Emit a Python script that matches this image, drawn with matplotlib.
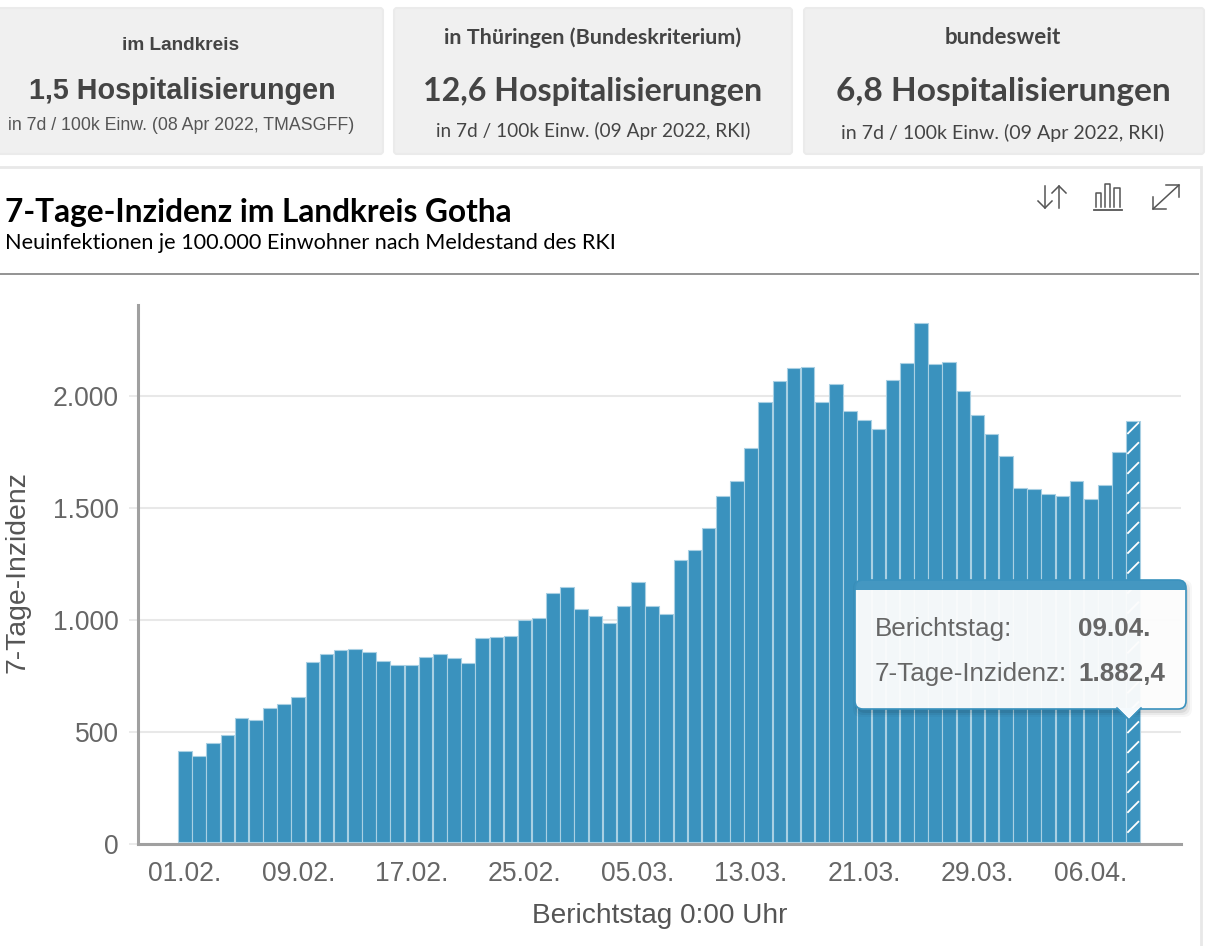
import matplotlib
matplotlib.use("Agg")
import numpy as np
import matplotlib.pyplot as plt
from matplotlib.patches import FancyBboxPatch, Polygon, Rectangle

WIDTH = 1210
HEIGHT = 946
BLUE = "#3a92be"

# 01.02. to 09.04.2022
days = [f"{d:02d}.02." for d in range(1, 29)] + [f"{d:02d}.03." for d in range(1, 32)] + [f"{d:02d}.04." for d in range(1, 10)]
incidence = [
    410, 385, 446, 480, 554, 548, 600, 617, 651, 806, 843, 858, 864, 850, 812, 791, 794,
    827, 839, 824, 800, 913, 917, 921, 993, 1002, 1114, 1139, 1042, 1011, 978, 1056, 1161,
    1054, 1018, 1261, 1306, 1403, 1548, 1615, 1760, 1965, 2059, 2117, 2121, 1965, 2047,
    1926, 1885, 1846, 2063, 2138, 2318, 2135, 2146, 2014, 1907, 1821, 1724, 1580, 1579,
    1554, 1548, 1612, 1532, 1594, 1742, 1882.4,
]
y_ticks = [0, 500, 1000, 1500, 2000]
y_tick_labels = ["0", "500", "1.000", "1.500", "2.000"]

card_heads = ["im Landkreis", "in Thüringen (Bundeskriterium)", "bundesweit"]
card_values = ["1,5 Hospitalisierungen", "12,6 Hospitalisierungen", "6,8 Hospitalisierungen"]
card_notes = [
    "in 7d / 100k Einw. (08 Apr 2022, TMASGFF)",
    "in 7d / 100k Einw. (09 Apr 2022, RKI)",
    "in 7d / 100k Einw. (09 Apr 2022, RKI)",
]


def px(size):
    return size * 0.72


def pixel_axes(fig, zorder):
    ax = fig.add_axes([0, 0, 1, 1], zorder=zorder)
    ax.set_xlim(0, WIDTH)
    ax.set_ylim(HEIGHT, 0)
    ax.axis("off")
    ax.patch.set_alpha(0)
    return ax


def draw_cards(ax):
    boxes = [(-10, 383), (394, 792), (804, 1204)]
    for left, right in boxes:
        ax.add_patch(FancyBboxPatch((left, 8), right - left, 146, boxstyle="round,pad=0,rounding_size=3",
                                    fc="#f0f0f0", ec="#ebebeb", lw=1.5))

    ax.text(181, 46, card_heads[0], family="Liberation Sans", weight="bold", size=px(19), color="#444444", ha="center", va="center")
    ax.text(182, 91, card_values[0], family="Liberation Sans", weight="bold", size=px(28.8), color="#444444", ha="center", va="center")
    ax.text(181.5, 125, card_notes[0], family="Liberation Sans", size=px(17.8), color="#555555", ha="center", va="center")

    sizes = [None, (21.5, 32.1, 19), (22.3, 33.5, 19.6)]
    for i, cx, y0, y1, y2 in [(1, 593, 38, 92, 131), (2, 1003, 38, 92, 133)]:
        ax.text(cx, y0, card_heads[i], family="Lato", weight="bold", size=px(sizes[i][0]), color="#444444", ha="center", va="center")
        ax.text(cx, y1, card_values[i], family="Lato", weight="bold", size=px(sizes[i][1]), color="#444444", ha="center", va="center")
        ax.text(cx, y2, card_notes[i], family="Lato", size=px(sizes[i][2]), color="#444444", ha="center", va="center")


def draw_panel(ax):
    ax.add_patch(Rectangle((-5, 167), 1206, 790, fc="white", ec="#e8e8e8", lw=2))
    ax.plot([0, 1199], [274.5, 274.5], color="#808080", lw=1.2, solid_capstyle="butt")
    ax.text(5, 212, "7-Tage-Inzidenz im Landkreis Gotha", family="Lato", weight="bold", size=px(31.6), color="black", va="center")
    ax.text(5, 243, "Neuinfektionen je 100.000 Einwohner nach Meldestand des RKI", family="Lato", size=px(21.6), color="black", va="center")


def draw_icons(ax):
    c = "#555555"
    lw = 1.1
    # sort
    ax.plot([1045, 1045], [186, 208], color=c, lw=lw)
    ax.plot([1038, 1045, 1052], [201, 208, 201], color=c, lw=lw)
    ax.plot([1059, 1059], [186, 208], color=c, lw=lw)
    ax.plot([1052, 1059, 1066], [193, 186, 193], color=c, lw=lw)
    # bars
    ax.plot([1094, 1122], [210, 210], color=c, lw=1.3)
    ax.plot([1096, 1096, 1101, 1101], [207, 193, 193, 207], color=c, lw=lw)
    ax.plot([1105, 1105, 1110, 1110], [207, 184, 184, 207], color=c, lw=lw)
    ax.plot([1114, 1114, 1120, 1120], [207, 188, 188, 207], color=c, lw=lw)
    # expand
    ax.plot([1153, 1179], [209, 185], color=c, lw=lw)
    ax.plot([1153, 1153, 1166], [197, 209, 209], color=c, lw=lw)
    ax.plot([1166, 1179, 1179], [185, 185, 197], color=c, lw=lw)


def draw_tooltip(ax):
    box = (855, 580)
    w, h = 331, 129
    style = "round,pad=0,rounding_size=8"
    # soft shadow, only outside the box
    for grow, alpha in [(4, 0.03), (2, 0.05), (0, 0.07)]:
        ax.add_patch(FancyBboxPatch((box[0] + 2 - grow, box[1] + 4 - grow), w + 2 * grow, h + 2 * grow,
                                    boxstyle=style, fc="black", ec="none", alpha=alpha))
    ax.add_patch(FancyBboxPatch(box, w, h, boxstyle=style, fc="white", ec="none", alpha=0.95))
    band = FancyBboxPatch(box, w, h, boxstyle=style, fc=BLUE, ec="none", alpha=0.95)
    ax.add_patch(band)
    band.set_clip_path(Rectangle((box[0], box[1]), w, 10, transform=ax.transData))
    ax.add_patch(FancyBboxPatch(box, w, h, boxstyle=style, fc="none", ec=BLUE, lw=1.2))

    ax.add_patch(Polygon([(1118, 708), (1129, 719), (1140, 708)], closed=True, fc="#f5fafd", ec="none"))
    ax.plot([1117, 1129, 1141], [708, 720, 708], color=BLUE, lw=1.2)

    ax.text(875, 628.5, "Berichtstag:", family="Liberation Sans", size=px(26), color="#666666", va="center")
    ax.text(875, 673.5, "7-Tage-Inzidenz:", family="Liberation Sans", size=px(26), color="#666666", va="center")
    ax.text(1078, 628.5, days[-1], family="Liberation Sans", weight="bold", size=px(26), color="#666666", va="center")
    ax.text(1078, 673.5, "1.882,4", family="Liberation Sans", weight="bold", size=px(26), color="#666666", va="center")


def main():
    fig = plt.figure(figsize=(WIDTH / 100, HEIGHT / 100), dpi=100, facecolor="white")

    back = pixel_axes(fig, 0)
    draw_cards(back)
    draw_panel(back)
    draw_icons(back)

    # plot area in pixels: x 138..1181, y 305..844
    ax = fig.add_axes([138 / WIDTH, 1 - 844 / HEIGHT, (1181 - 138) / WIDTH, (844 - 305) / HEIGHT], zorder=1)
    ax.patch.set_alpha(0)
    positions = np.arange(len(days))
    ax.set_xlim(-3.32, 70.38)
    ax.set_ylim(0, 2406)

    ax.set_axisbelow(True)
    ax.grid(axis="y", color="#e8e8e8", lw=1.5)
    # small lift: the bar stroke in the reference sits just above the value
    ax.bar(positions, incidence, bottom=7, width=0.96, color=BLUE, edgecolor="#a9d0e3", linewidth=0.8, zorder=2)

    # white strokes on the last, still incomplete day
    last_x = positions[-1]
    for top in np.arange(incidence[-1], 30, -89):
        ax.plot([last_x - 0.41, last_x + 0.41], [top - 52, top], color="white", lw=1.3, zorder=3, solid_capstyle="butt")

    ax.set_yticks(y_ticks, y_tick_labels)
    ax.set_xticks(positions[::8], days[::8])
    ax.tick_params(axis="y", length=6.5, width=1.2, color="#e8e8e8", pad=7.5, labelsize=px(26.5), labelcolor="#666666")
    ax.tick_params(axis="x", length=0, pad=12, labelsize=px(26.5), labelcolor="#666666")
    for label in ax.get_xticklabels() + ax.get_yticklabels():
        label.set_family("Liberation Sans")

    for side in ["top", "right"]:
        ax.spines[side].set_visible(False)
    for side in ["left", "bottom"]:
        ax.spines[side].set_color("#a0a0a0")
        ax.spines[side].set_linewidth(2.2)
        ax.spines[side].set_zorder(4)

    front = pixel_axes(fig, 2)
    front.text(660, 915.5, "Berichtstag 0:00 Uhr", family="Liberation Sans", size=px(28), color="#555555", ha="center", va="center")
    front.text(18, 572, "7-Tage-Inzidenz", family="Liberation Sans", size=px(28.4), color="#555555", ha="center", va="center", rotation=90)
    draw_tooltip(front)

    fig.savefig("out.png", dpi=100)
    plt.close(fig)


if __name__ == "__main__":
    main()
